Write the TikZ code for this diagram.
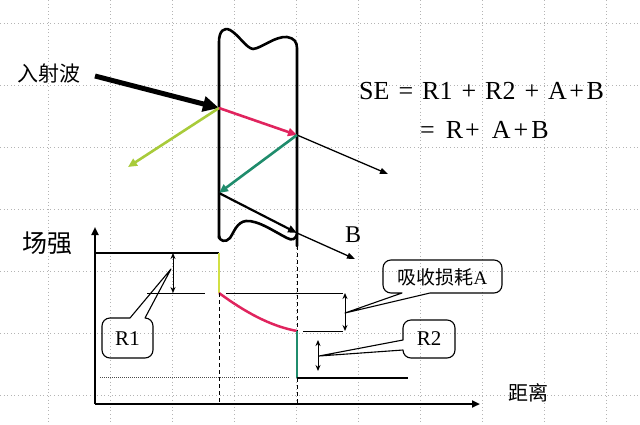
\documentclass[tikz,border=0pt]{standalone}
\usepackage{fontspec}
\setmainfont{Liberation Serif}
\newfontfamily\cjk{Noto Sans CJK SC}
\usetikzlibrary{arrows.meta}
\definecolor{pinkray}{HTML}{E0245E}
\definecolor{limeray}{HTML}{A8CB3A}
\definecolor{limelvl}{HTML}{D2E044}
\definecolor{tealray}{HTML}{1F8C6C}
\definecolor{gridgray}{HTML}{B4B4B4}
\begin{document}
\begin{tikzpicture}[x=1pt,y=-1pt,
  fsz/.code={\fontsize{#1}{#1}\selectfont},
  gridline/.style={gridgray, line width=0.8pt, dash pattern=on 1pt off 2.6pt},
  slab/.style={line width=2.6pt, line join=round, line cap=round},
  inc/.style={line width=5pt, -{Triangle[length=16pt,width=15pt]}},
  ray/.style={line width=2.6pt, -{Triangle[length=9pt,width=8pt]}},
  thinray/.style={line width=1.3pt, -{Triangle[length=8pt,width=6pt]}},
  dimarrow/.style={line width=1pt, {Stealth[length=6pt,width=5pt]}-{Stealth[length=6pt,width=5pt]}},
  refline/.style={line width=0.9pt},
  callbox/.style={line width=1.1pt, line join=round},
  axis/.style={line width=2.2pt, -{Triangle[length=8pt,width=7pt]}},
  level/.style={line width=2.5pt},
  guide/.style={line width=0.9pt, dash pattern=on 4pt off 3pt},
  lbl/.style={inner sep=0pt}
]
\useasboundingbox (0,0) rectangle (640,424);
% background grid
\foreach \gx in {48,110,...,606} \draw[gridline] (\gx,0) -- (\gx,424);
\foreach \gy in {23,85,...,395} \draw[gridline] (0,\gy) -- (640,\gy);

% key points
\coordinate (src) at (95,76);
\coordinate (hit) at (219,108);
\coordinate (back1) at (297,135);
\coordinate (refl) at (128,167);
\coordinate (out1) at (388,174);
\coordinate (front2) at (219,193);
\coordinate (back2) at (297,233);
\coordinate (out2) at (355,259);

% slab
\draw[slab] (219,238) -- (219,42)
  .. controls (219,31) and (224,27) .. (230,30)
  .. controls (239,35) and (246,48) .. (253,49)
  .. controls (262,48) and (275,36) .. (287,37)
  .. controls (294,38) and (297,42) .. (297,48) -- (297,246);
\draw[slab] (219,236)
  .. controls (219,241) and (226,243) .. (230,238)
  .. controls (234,232) and (237,222) .. (246,221)
  .. controls (258,220) and (275,232) .. (287,238)
  .. controls (292,241) and (296,239) .. (297,234);

% rays
\draw[inc] (src) -- (hit);
\draw[ray, limeray] (hit) -- (refl);
\draw[ray, pinkray] (hit) -- (back1);
\draw[thinray] (back1) -- (out1);
\draw[ray, tealray] (back1) -- (front2);
\draw[line width=2.2pt, -{Triangle[length=9pt,width=7pt]}] (front2) -- (back2);
\draw[thinray] (back2) -- (out2);

% labels top
\node[lbl, font=\cjk, fsz=21] (incident) at (48.5,74) {入射波};
\node[lbl, fsz=26, anchor=base west] (se1) at (359,99)
  {SE\hspace{9pt}=\hspace{9pt}R1\hspace{9pt}+\hspace{9pt}R2\hspace{9pt}+\hspace{9pt}A\hspace{2.5pt}+\hspace{2.5pt}B};
\node[lbl, fsz=26, anchor=base west] (se2) at (420,138)
  {=\hspace{11pt}R\hspace{2pt}+\hspace{12pt}A\hspace{3pt}+\hspace{3pt}B};
\node[lbl, fsz=24] (blabel) at (353,235) {B};

% axes
\coordinate (origin) at (95,404);
\coordinate (ytip) at (95,227);
\coordinate (xtip) at (480,404);
\draw[axis] (origin) -- (ytip);
\draw[axis] (origin) -- (xtip);
\node[lbl, font=\cjk, fsz=25] (field) at (48,243) {场强};
\node[lbl, font=\cjk, fsz=20] (dist) at (528,393) {距离};

% field level
\coordinate (l0) at (95,253);
\coordinate (l1) at (219,253);
\coordinate (l2) at (219,293);
\coordinate (l3) at (297,331);
\coordinate (l4) at (297,378);
\coordinate (l5) at (408,378);
\draw[level] (l0) -- (l1);
\draw[level, limelvl] (l1) -- (l2);
\draw[level, pinkray] (l2) .. controls (245,312) and (270,326) .. (l3);
\draw[level, tealray] (l3) -- (l4);
\draw[level] (l4) -- (l5);

% guides
\draw[guide] (l2) -- (219,404);
\draw[guide] (297,246) -- (l3);
\draw[guide] (l4) -- (297,404);
\draw[refline] (147,293) -- (205,293);
\draw[refline] (226,293) -- (343,293);
\draw[refline] (303,331) -- (343,331);
\draw[line width=0.9pt, dash pattern=on 1pt off 1pt, black!70] (100,377) -- (290,377);

% dimension arrows
\draw[dimarrow] (173,253) -- (173,293);
\draw[dimarrow] (345,293) -- (345,331);
\draw[dimarrow] (318,340) -- (318,371);

% callouts
\coordinate (r1tip) at (171,269);
\coordinate (atip) at (345,313);
\coordinate (r2tip) at (319,356);
\draw[callbox] (130,318) -- (r1tip) -- (145,318) [rounded corners=8pt] -- (153,318) -- (153,358) -- (102,358) -- (102,318) [sharp corners] -- cycle;
\draw[callbox] (402,293) -- (atip) -- (430,293) [rounded corners=8pt] -- (502,293) -- (502,260) -- (383,260) -- (383,293) [sharp corners] -- cycle;
\draw[callbox] (403,350) -- (r2tip) -- (403,340) [rounded corners=8pt] -- (403,320) -- (455,320) -- (455,358) -- (403,358) [sharp corners] -- cycle;
\node[lbl, fsz=21] (r1) at (127.5,339) {R1};
\node[lbl, fsz=21] (r2) at (429,339) {R2};
\node[lbl, fsz=19] (absA) at (442.5,277) {{\cjk 吸收损耗}A};
\end{tikzpicture}
\end{document}
